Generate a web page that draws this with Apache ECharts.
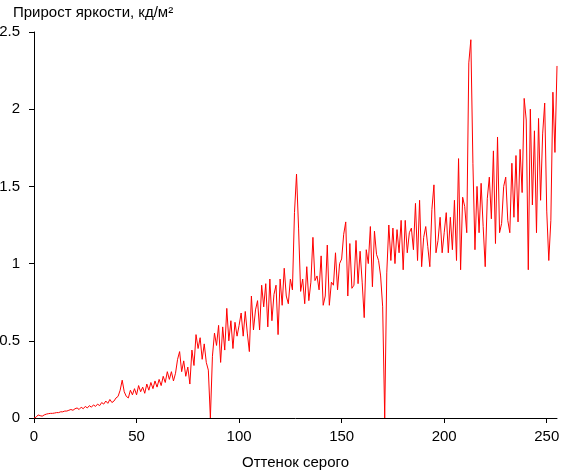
<!DOCTYPE html>
<html>
<head>
<meta charset="utf-8">
<script src="https://cdn.jsdelivr.net/npm/echarts@6/dist/echarts.min.js"></script>
<style>html,body{margin:0;padding:0;background:#fff}#c{width:561px;height:471px}</style>
</head>
<body>
<div id="c"></div>
<script>
// Grey level (0..255) brightness increment, cd/m2
const values = [
0,0.005,0.02,0.015,0.012,0.02,0.025,0.028,0.03,0.03,
0.032,0.035,0.035,0.04,0.04,0.045,0.045,0.05,0.055,0.05,
0.06,0.065,0.055,0.07,0.06,0.075,0.065,0.08,0.07,0.085,
0.075,0.09,0.08,0.1,0.09,0.11,0.095,0.12,0.1,0.11,
0.13,0.14,0.18,0.245,0.17,0.14,0.13,0.18,0.15,0.19,
0.15,0.21,0.17,0.2,0.16,0.22,0.18,0.23,0.19,0.24,
0.2,0.25,0.21,0.27,0.23,0.3,0.25,0.3,0.24,0.29,
0.38,0.43,0.3,0.37,0.27,0.33,0.22,0.44,0.34,0.54,
0.45,0.52,0.38,0.48,0.36,0.31,0,0.4,0.55,0.47,
0.6,0.36,0.59,0.44,0.71,0.5,0.63,0.45,0.62,0.53,
0.6,0.68,0.53,0.69,0.55,0.43,0.79,0.57,0.7,0.76,
0.57,0.86,0.72,0.87,0.59,0.9,0.63,0.8,0.86,0.54,
0.9,0.73,0.97,0.79,0.74,0.9,0.83,1.33,1.58,1.23,
0.82,0.9,0.74,0.98,0.76,0.88,1.17,0.89,0.92,0.83,
1.05,0.73,0.79,1.12,0.73,0.88,0.86,1.07,0.83,1.0,
1.03,1.19,1.27,0.79,1.13,0.84,0.86,1.15,0.87,1.08,
0.88,0.65,1.09,1.0,1.24,0.85,1.21,1.06,1.02,0.92,
0.72,0,0.94,1.25,1.02,1.23,1.0,1.22,1.07,1.28,
0.96,1.28,1.07,1.2,1.23,1.09,1.39,1.02,1.41,0.98,
1.17,1.24,1.11,0.98,1.35,1.51,1.07,1.15,1.3,1.07,
1.2,1.33,1.07,1.3,1.09,1.41,1.02,1.68,0.96,1.43,
1.37,1.2,2.3,2.45,1.65,1.09,1.5,1.2,1.52,1.24,
0.98,1.42,1.56,1.29,1.73,1.13,1.82,1.2,1.26,1.5,
1.56,1.28,1.2,1.65,1.3,1.7,1.27,1.74,1.46,2.07,
1.93,0.96,2.0,1.38,1.86,1.2,1.94,1.41,1.84,2.04,
1.34,1.02,1.28,2.11,1.72,2.28
];
const xTicks = [0, 50, 100, 150, 200, 250];
const yTicks = [0, 0.5, 1, 1.5, 2, 2.5];
const titleText = 'Прирост яркости, кд/м²';
const xName = 'Оттенок серого';

const data = values.map((v, i) => [i, v]);
const font = 'Liberation Sans, Arial, sans-serif';
const chart = echarts.init(document.getElementById('c'), null, {renderer: 'canvas'});
chart.setOption({
  animation: false,
  backgroundColor: '#fff',
  title: {
    text: titleText, left: 8, top: 0,
    textStyle: {fontFamily: font, fontSize: 15, fontWeight: 'normal', color: '#000'}
  },
  grid: {left: 34, right: 4, top: 32, bottom: 53, containLabel: false, outerBoundsMode: 'none'},
  xAxis: {
    type: 'value', min: 0, max: 255, interval: 50,
    name: xName, nameLocation: 'middle', nameGap: 37,
    nameTextStyle: {fontFamily: font, fontSize: 15, color: '#000'},
    axisLine: {show: true, lineStyle: {color: '#000', width: 1}},
    axisTick: {show: true, length: 5, lineStyle: {color: '#000'}, customValues: xTicks},
    axisLabel: {color: '#000', fontFamily: font, fontSize: 15, margin: 11, customValues: xTicks},
    splitLine: {show: false}
  },
  yAxis: {
    type: 'value', min: 0, max: 2.5, interval: 0.5,
    axisLine: {show: true, lineStyle: {color: '#000', width: 1}},
    axisTick: {show: true, length: 5, lineStyle: {color: '#000'}, customValues: yTicks},
    axisLabel: {color: '#000', fontFamily: font, fontSize: 15, margin: 14, customValues: yTicks},
    splitLine: {show: false}
  },
  series: [{
    type: 'line', data: data, showSymbol: false, symbol: 'none',
    lineStyle: {color: '#ff0000', width: 1}, itemStyle: {color: '#ff0000'}
  }]
});
</script>
</body>
</html>
